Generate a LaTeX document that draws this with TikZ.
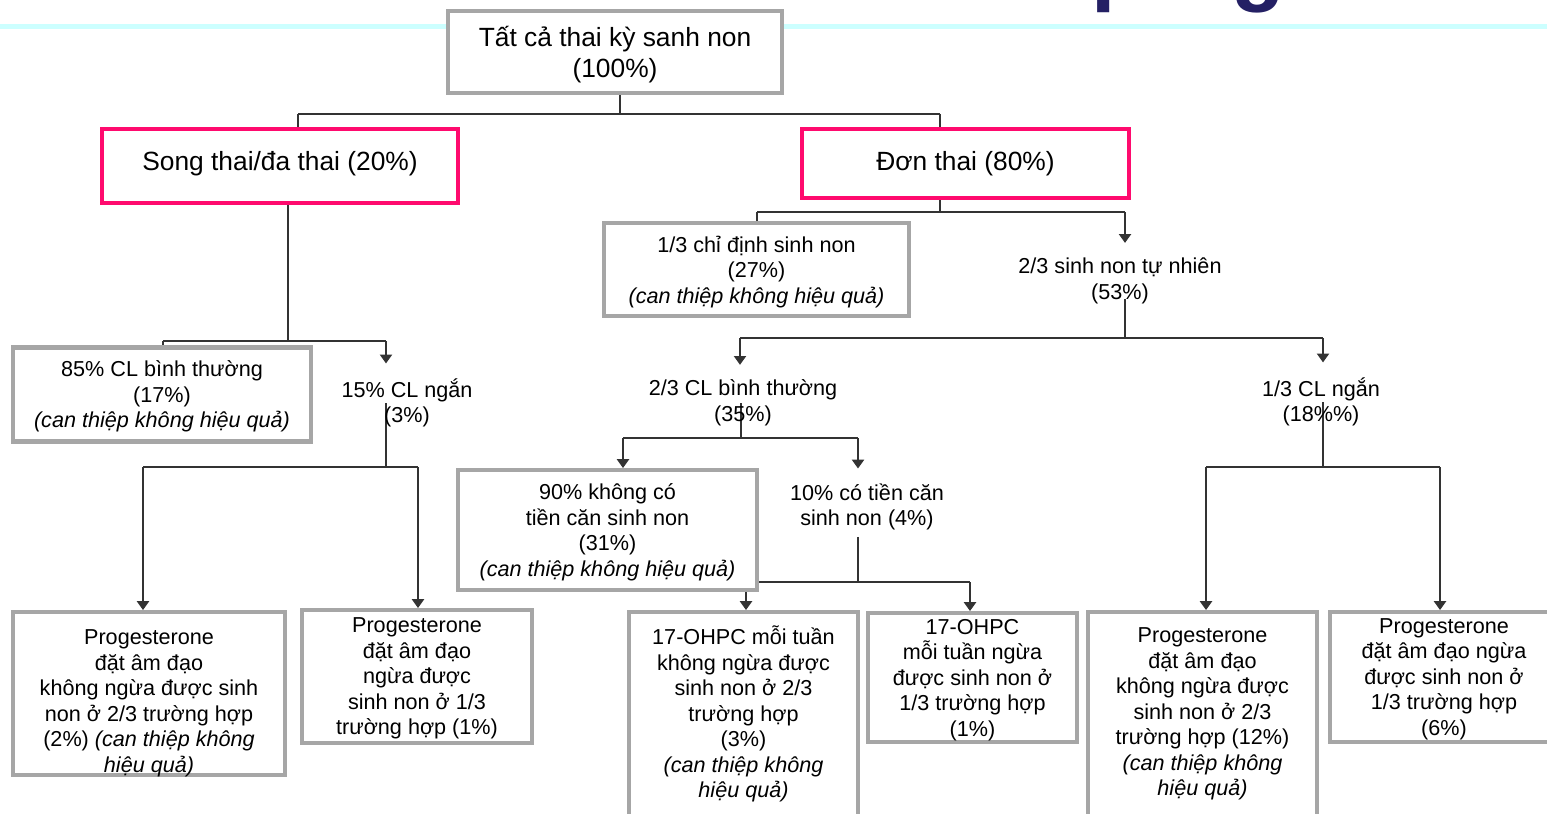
\documentclass[tikz,border=0pt]{standalone}
\usepackage{fontspec}
\setmainfont{Liberation Sans}
\usetikzlibrary{arrows.meta, backgrounds}

\definecolor{boxgray}{RGB}{166,166,166}
\definecolor{hotpink}{RGB}{255,10,110}
\definecolor{linkgray}{RGB}{51,51,51}
\definecolor{navy}{RGB}{36,32,100}
\definecolor{paleblue}{RGB}{204,255,255}

\begin{document}
\begin{tikzpicture}[x=0.02cm, y=-0.02cm,
  every node/.style={font=\fontsize{12.3pt}{14.5pt}\selectfont},
  box/.style 2 args={draw=boxgray, line width=2.3pt, fill=white, inner sep=0pt, align=center,
    minimum width=#1*0.02cm, minimum height=#2*0.02cm, text depth=-1.4pt},
  pinkbox/.style 2 args={box={#1}{#2}, draw=hotpink, text depth=3.2pt},
  txt/.style={inner xsep=0pt, inner ysep=8.5pt, align=center},
  title/.style={font=\fontsize{50pt}{50pt}\selectfont\bfseries, text=navy, anchor=base west, inner sep=0pt},
  link/.style={draw=linkgray, line width=0.6pt},
  arr/.style={link, -{Triangle[width=7pt, length=5pt]}}]
  \useasboundingbox (0,0) rectangle (1547,814);
  \clip (0,0) rectangle (1547,814);

  % slide title, cut by the top edge
  \node[title] (tp) at (1091,-5) {p};
  \node[title] (tg) at (1231,-5) {g};

  % boxes
  \node[box={334}{82}, font=\fontsize{15pt}{18pt}\selectfont, text depth=-0.2pt] (top) at (615,52) {Tất cả thai kỳ sanh non\\(100\%)};
  \node[pinkbox={356}{74}, font=\fontsize{15pt}{18pt}\selectfont, text depth=5.2pt] (twin) at (280,166) {Song thai/đa thai (20\%)};
  \node[pinkbox={327}{69}, font=\fontsize{15pt}{18pt}\selectfont] (single) at (965.5,163.5) {Đơn thai (80\%)};

  \node[box={305}{93}] (ind) at (756.5,269.5) {1/3 chỉ định sinh non\\(27\%)\\\textit{(can thiệp không hiệu quả)}};
  \node[txt] (spont) at (1120,281) {2/3 sinh non tự nhiên\\(53\%)};

  \node[box={298}{94}] (cln) at (162,394.5) {85\% CL bình thường\\(17\%)\\\textit{(can thiệp không hiệu quả)}};
  \node[txt] (csh) at (407,403) {15\% CL ngắn\\(3\%)};
  \node[txt] (cl2) at (743,403) {2/3 CL bình thường\\(35\%)};
  \node[txt] (cl3) at (1321,402) {1/3 CL ngắn\\(18\%\%)};

  \node[box={299}{120}] (nohist) at (607.5,530) {90\% không có\\tiền căn sinh non\\(31\%)\\\textit{(can thiệp không hiệu quả)}};
  \node[txt] (hist) at (867,507) {10\% có tiền căn\\sinh non (4\%)};

  \node[box={272}{163}, text height=89.5pt] (pv1) at (149,693.5) {Progesterone\\đặt âm đạo\\không ngừa được sinh\\non ở 2/3 trường hợp\\(2\%) \textit{(can thiệp không}\\\textit{hiệu quả)}};
  \node[box={230}{133}] (pv2) at (417,676.5) {Progesterone\\đặt âm đạo\\ngừa được\\sinh non ở 1/3\\trường hợp (1\%)};
  \node[box={229}{204}, text depth=2.6pt] (oh1) at (743.5,714) {17-OHPC mỗi tuần\\không ngừa được\\sinh non ở 2/3\\trường hợp\\(3\%)\\\textit{(can thiệp không}\\\textit{hiệu quả)}};
  \node[box={209}{129}] (oh2) at (972.5,677.5) {17-OHPC\\mỗi tuần ngừa\\được sinh non ở\\1/3 trường hợp\\(1\%)};
  \node[box={229}{204}, text depth=2.6pt] (pv3) at (1202.5,714) {Progesterone\\đặt âm đạo\\không ngừa được\\sinh non ở 2/3\\trường hợp (12\%)\\\textit{(can thiệp không}\\\textit{hiệu quả)}};
  \node[box={228}{130}] (pv4) at (1444,677) {Progesterone\\đặt âm đạo ngừa\\được sinh non ở\\1/3 trường hợp\\(6\%)};

  \begin{scope}[on background layer]
    \draw[paleblue, line width=2.55pt] (0,26.3) -- (1547,26.3);

    % top split
    \coordinate (t1) at (620,114);
    \coordinate (t1l) at (298,114);
    \coordinate (t1r) at (940,114);
    \draw[link] (top.south -| t1) -- (t1) (t1l) -- (t1r) (t1l) -- (twin.north -| t1l) (t1r) -- (single.north -| t1r);

    % twins
    \coordinate (s1) at (288,341);
    \coordinate (s1l) at (163,341);
    \coordinate (s1r) at (386,341);
    \draw[link] (twin.south -| s1) -- (s1) (s1l) -- (s1r) (s1l) -- (cln.north -| s1l);
    \draw[arr] (s1r) -- (csh.north -| s1r);

    \coordinate (s2) at (386,467);
    \coordinate (s2l) at (143,467);
    \coordinate (s2r) at (418,467);
    \draw[link] (csh.center -| s2) -- (s2) (s2l) -- (s2r);
    \draw[arr] (s2l) -- (pv1.north -| s2l);
    \draw[arr] (s2r) -- (pv2.north -| s2r);

    % singletons
    \coordinate (d1) at (940,212);
    \coordinate (d1l) at (757,212);
    \coordinate (d1r) at (1125,212);
    \draw[link] (single.south -| d1) -- (d1) (d1l) -- (d1r) (d1l) -- (ind.north -| d1l);
    \draw[arr] (d1r) -- (spont.north -| d1r);

    \coordinate (d2) at (1125,338);
    \coordinate (d2l) at (740,338);
    \coordinate (d2r) at (1323,338);
    \draw[link, shorten <=10pt] (spont.center -| d2) -- (d2);
    \draw[link] (d2l) -- (d2r);
    \draw[arr] (d2l) -- (cl2.north -| d2l);
    \draw[arr] (d2r) -- (cl3.north -| d2r);

    \coordinate (d3) at (741,438);
    \coordinate (d3l) at (623,438);
    \coordinate (d3r) at (858,438);
    \draw[link] (cl2.center -| d3) -- (d3) (d3l) -- (d3r);
    \draw[arr] (d3l) -- (nohist.north -| d3l);
    \draw[arr] (d3r) -- (hist.north -| d3r);

    \coordinate (d4) at (858,582);
    \coordinate (d4l) at (746,582);
    \coordinate (d4r) at (970,582);
    \draw[link, shorten <=17pt] (hist.center -| d4) -- (d4);
    \draw[link] (d4l) -- (d4r);
    \draw[arr] (d4l) -- (oh1.north -| d4l);
    \draw[arr] (d4r) -- (oh2.north -| d4r);

    \coordinate (d5) at (1323,467);
    \coordinate (d5l) at (1206,467);
    \coordinate (d5r) at (1440,467);
    \draw[link] (cl3.center -| d5) -- (d5) (d5l) -- (d5r);
    \draw[arr] (d5l) -- (pv3.north -| d5l);
    \draw[arr] (d5r) -- (pv4.north -| d5r);
  \end{scope}
\end{tikzpicture}
\end{document}
